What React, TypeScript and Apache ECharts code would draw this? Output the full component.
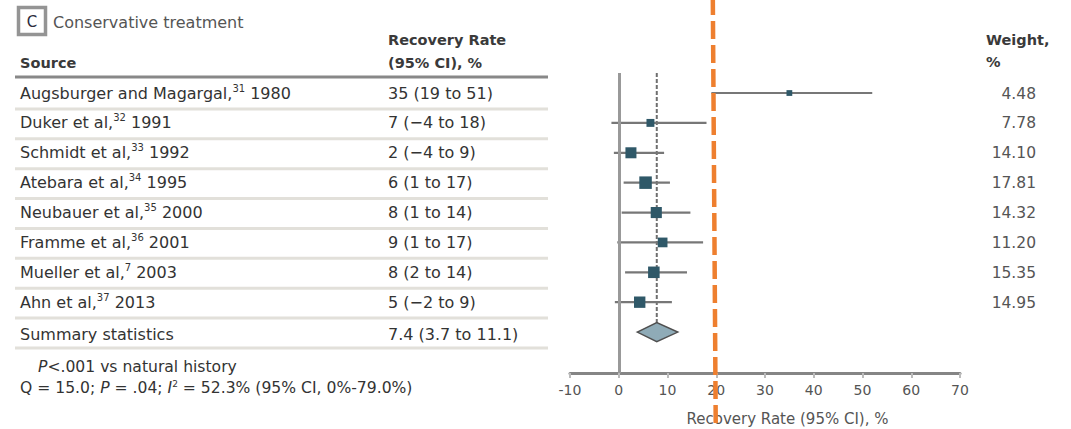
import React, { useEffect, useRef } from "react";
import * as echarts from "echarts";

// ---- data ----
const sources = [
  "Augsburger and Magargal,",
  "Duker et al,",
  "Schmidt et al,",
  "Atebara et al,",
  "Neubauer et al,",
  "Framme et al,",
  "Mueller et al,",
  "Ahn et al,",
];
const refs = ["31", "32", "33", "34", "35", "36", "7", "37"];
const years = ["1980", "1991", "1992", "1995", "2000", "2001", "2003", "2013"];
const ciTexts = [
  "35 (19 to 51)",
  "7 (−4 to 18)",
  "2 (−4 to 9)",
  "6 (1 to 17)",
  "8 (1 to 14)",
  "9 (1 to 17)",
  "8 (2 to 14)",
  "5 (−2 to 9)",
];
const weights = [4.48, 7.78, 14.1, 17.81, 14.32, 11.2, 15.35, 14.95];
// plotted values
const estimates = [35, 6.5, 2.5, 5.5, 7.7, 9, 7.2, 4.3];
const ciLow = [19, -1.5, -1, 1, 0.6, -0.3, 1.3, -0.8];
const ciHigh = [52, 18, 9.3, 10.5, 14.7, 17.3, 14, 10.9];
const summaryLabel = "Summary statistics";
const summaryText = "7.4 (3.7 to 11.1)";
const summaryEst = 7.8;
const summaryLow = 3.8;
const summaryHigh = 12.1;
const referenceLine = 20;
const xTicks = { min: -10, max: 70, interval: 10 };

const FONT = '"DejaVu Sans", sans-serif';
const TXT = "#333";
const Y_MIN = -0.67;
const Y_MAX = 9.37;

export default function App() {
  const ref = useRef<HTMLDivElement>(null);
  useEffect(() => {
    document.body.style.margin = "0";
    const chart = echarts.init(ref.current as HTMLDivElement, null, { renderer: "svg" });
    const ciData = estimates.map((e, i) => [e, i, ciLow[i], ciHigh[i], weights[i]]);
    const summaryRow = estimates.length;
    chart.setOption({
      animation: false,
      grid: { left: 570, right: 111, top: 73, bottom: 56 },
      xAxis: {
        type: "value",
        min: xTicks.min,
        max: xTicks.max,
        interval: xTicks.interval,
        axisLine: { show: true, onZero: false, lineStyle: { color: "#858585", width: 3 } },
        axisTick: { show: true, length: 5, lineStyle: { color: "#bbb", width: 2 } },
        axisLabel: { fontSize: 14, color: "#555", fontFamily: FONT, margin: 10 },
        splitLine: { show: false },
      },
      yAxis: { type: "value", inverse: true, min: Y_MIN, max: Y_MAX, show: false },
      series: [
        {
          type: "line",
          data: [
            [summaryEst, Y_MIN],
            [summaryEst, summaryRow],
          ],
          symbol: "none",
          lineStyle: { color: "#6f6f6f", width: 2, type: [4, 2] },
          z: 2,
          silent: true,
        },
        {
          type: "custom",
          data: ciData,
          z: 3,
          renderItem: (params: any, api: any) => {
            const est = api.value(0);
            const row = api.value(1);
            const lo = api.value(2);
            const hi = api.value(3);
            const w = api.value(4);
            const [cx, cy] = api.coord([est, row]);
            const xl = api.coord([lo, row])[0];
            const xh = api.coord([hi, row])[0];
            const s = 3.2 * Math.sqrt(w) - 1;
            return {
              type: "group",
              children: [
                {
                  type: "line",
                  shape: { x1: xl, y1: cy, x2: xh, y2: cy },
                  style: { stroke: "#777", lineWidth: 2.2 },
                },
                {
                  type: "rect",
                  shape: { x: cx - s / 2, y: cy - s / 2, width: s, height: s },
                  style: { fill: "#2f5868" },
                },
              ],
            };
          },
          markLine: {
            silent: true,
            symbol: ["none", "none"],
            label: { show: false },
            lineStyle: { color: "#999", width: 3, type: "solid" },
            data: [{ xAxis: 0 }],
          },
        },
        {
          type: "custom",
          data: [[summaryEst, summaryRow, summaryLow, summaryHigh]],
          z: 4,
          renderItem: (params: any, api: any) => {
            const row = api.value(1);
            const [cx, cy] = api.coord([api.value(0), row]);
            const xl = api.coord([api.value(2), row])[0];
            const xh = api.coord([api.value(3), row])[0];
            const h = 9.5;
            return {
              type: "polygon",
              shape: {
                points: [
                  [xl, cy],
                  [cx, cy - h],
                  [xh, cy],
                  [cx, cy + h],
                ],
              },
              style: { fill: "#8fabb7", stroke: "#4f4f4f", lineWidth: 1.5 },
            };
          },
        },
      ],
    });

    const yPx = (r: number) => chart.convertToPixel({ yAxisIndex: 0 }, r) as number;
    const xPx = (v: number) => chart.convertToPixel({ xAxisIndex: 0 }, v) as number;
    const base = { fontFamily: FONT, fontSize: 16, fill: TXT, color: TXT, lineHeight: 20 };
    const sup = { fontFamily: FONT, fontSize: 10, fill: TXT, color: TXT, lineHeight: 10, verticalAlign: "top" };
    const txt = (x: number, y: number, text: string, extra: any = {}) => ({
      type: "text",
      silent: true,
      style: {
        x,
        y,
        text,
        fontFamily: FONT,
        fontSize: 16,
        fill: TXT,
        align: "left",
        textAlign: "left",
        verticalAlign: "middle",
        textVerticalAlign: "middle",
        ...extra,
      },
    });
    const els: any[] = [];
    // panel label
    els.push({
      type: "rect",
      shape: { x: 18.5, y: 7.5, width: 27, height: 27 },
      style: { fill: "#fff", stroke: "#949494", lineWidth: 3.5 },
    });
    els.push(txt(32, 21.5, "C", { align: "center", textAlign: "center", fill: "#2c2c3c", fontSize: 15 }));
    els.push(txt(53, 22, "Conservative treatment", { fill: "#555", fontSize: 16 }));
    // headers
    const hb = { fontWeight: "bold", fontSize: 14.5, fill: "#3a3a3a" };
    els.push(txt(20, 63, "Source", hb));
    els.push(txt(388, 40, "Recovery Rate", hb));
    els.push(txt(388, 63, "(95% CI), %", hb));
    els.push(txt(986, 40, "Weight,", hb));
    els.push(txt(986, 62, "%", hb));
    els.push({
      type: "line",
      shape: { x1: 15, y1: 77, x2: 548, y2: 77 },
      style: { stroke: "#888", lineWidth: 3 },
    });
    // rows
    sources.forEach((s, i) => {
      const y = yPx(i);
      els.push({
        type: "text",
        silent: true,
        style: {
          x: 20,
          y,
          text: `{a|${s}}{s|${refs[i]}}{a| ${years[i]}}`,
          rich: { a: base, s: sup },
          align: "left",
          textAlign: "left",
          verticalAlign: "middle",
          textVerticalAlign: "middle",
        },
      });
      els.push(txt(388, y, ciTexts[i]));
      els.push(
        txt(1036, y + 0.5, weights[i].toFixed(2), { align: "right", textAlign: "right", fill: "#555", fontSize: 15.5 })
      );
    });
    const ys = yPx(summaryRow);
    els.push(txt(20, ys + 2, summaryLabel));
    els.push(txt(388, ys + 2, summaryText));
    // separators
    for (let i = 0; i <= summaryRow; i++) {
      const y = yPx(i + 0.5) + 1;
      els.push({
        type: "line",
        shape: { x1: 15, y1: y, x2: 548, y2: y },
        style: { stroke: "#e2e0da", lineWidth: 3 },
      });
    }
    // footnotes
    const fn = { fontFamily: FONT, fontSize: 15.6, fill: TXT, color: TXT, lineHeight: 18 };
    const fi = { ...fn, fontStyle: "italic" };
    const fs = { fontFamily: FONT, fontSize: 9, fill: TXT, color: TXT, lineHeight: 9, verticalAlign: "top" };
    els.push({
      type: "text",
      silent: true,
      style: {
        x: 38,
        y: 367,
        text: "{i|P}{n|<.001 vs natural history}",
        rich: { n: fn, i: fi },
        align: "left",
        textAlign: "left",
        verticalAlign: "middle",
        textVerticalAlign: "middle",
      },
    });
    els.push({
      type: "text",
      silent: true,
      style: {
        x: 20,
        y: 388,
        text: "{n|Q = 15.0; }{i|P}{n| = .04; }{i|I}{s|2}{n| = 52.3% (95% CI, 0%-79.0%)}",
        rich: { n: fn, i: fi, s: fs },
        align: "left",
        textAlign: "left",
        verticalAlign: "middle",
        textVerticalAlign: "middle",
      },
    });
    // axis title
    els.push(txt(787.5, 419, "Recovery Rate (95% CI), %", { align: "center", textAlign: "center", fill: "#555", fontSize: 15 }));
    // orange reference line
    els.push({
      type: "line",
      silent: true,
      z: 100,
      shape: { x1: xPx(referenceLine - 0.7), y1: 0, x2: xPx(referenceLine - 0.1), y2: 429 },
      style: { stroke: "#ee7f2f", lineWidth: 4.5, lineDash: [18, 6], lineDashOffset: 3 },
    });
    chart.setOption({ graphic: { elements: els } });
    return () => chart.dispose();
  }, []);
  return <div ref={ref} style={{ width: 1071, height: 429, position: "absolute", left: 0, top: 0 }} />;
}
